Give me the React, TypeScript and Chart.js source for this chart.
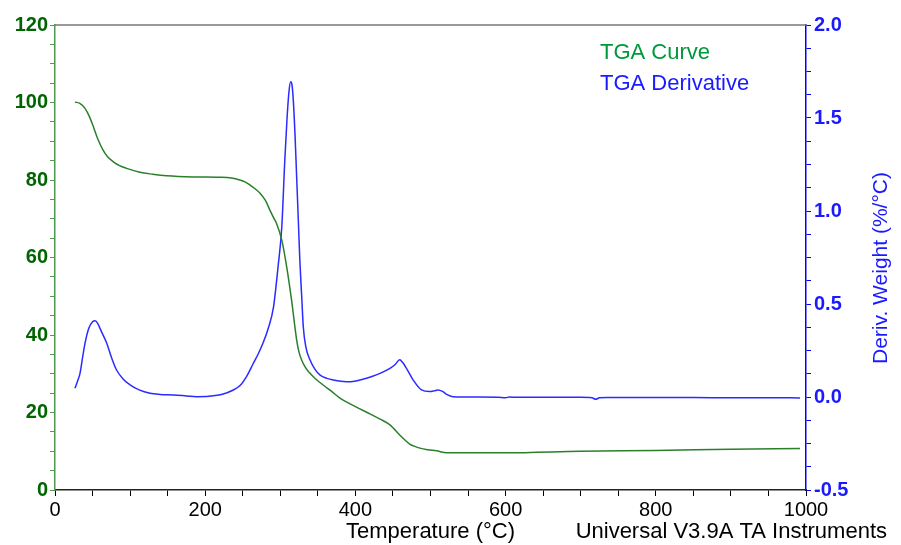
import React, { useEffect, useRef } from "react";
import { Chart, registerables } from "chart.js";

Chart.register(...registerables);

// TGA weight curve (%), vs temperature (°C)
const tgaTemp = [26.6, 33, 40, 46, 51, 57, 64, 70, 77.7, 86, 95.4, 113, 130, 148.7, 184, 220, 235, 246, 253, 259.7, 266, 273, 280, 286, 291, 295, 302, 308.5, 315, 321.8, 325, 328.5, 333, 339.5, 348, 357, 368, 379.5, 400, 420, 432.8, 446, 459, 466, 472.7, 480, 486, 496, 508, 521.5, 560, 600, 700, 800, 900, 992];
const tgaWeight = [100.1, 99.8, 98.5, 96.3, 93.8, 90.6, 87.7, 86.0, 84.7, 83.7, 83.0, 82.0, 81.5, 81.1, 80.8, 80.7, 80.5, 80.0, 79.5, 78.7, 77.8, 76.6, 74.8, 72.3, 70.3, 68.8, 64.5, 57.6, 49.0, 38.7, 35.5, 33.5, 31.8, 30.1, 28.5, 27.1, 25.5, 23.7, 21.5, 19.6, 18.3, 16.8, 14.2, 12.9, 11.8, 11.2, 10.8, 10.4, 10.1, 9.6, 9.6, 9.6, 10.0, 10.2, 10.5, 10.7];

// TGA derivative (%/°C), vs temperature (°C)
const derivTemp = [26.6, 30, 33.3, 37, 40, 45, 50, 53.3, 57, 62, 68.8, 75, 82, 90, 100, 112, 126.5, 140, 157.5, 175, 188.7, 205, 224, 236, 246, 255, 264, 271, 277, 284, 291, 297, 302, 306, 309, 311.5, 313.8, 315.5, 317, 319.5, 321.8, 324, 326, 328.5, 330.6, 334, 339.5, 346, 353, 362, 370.6, 388, 399, 410, 422, 432.8, 446, 453, 459, 463, 468, 477, 488, 499, 505, 510, 516, 521.5, 530, 560, 590, 600, 605, 615, 650, 700, 715, 720, 725, 735, 800, 850, 900, 950, 992];
const derivValue = [0.047, 0.085, 0.127, 0.22, 0.29, 0.37, 0.405, 0.41, 0.395, 0.35, 0.29, 0.215, 0.145, 0.1, 0.065, 0.038, 0.02, 0.014, 0.011, 0.006, 0.002, 0.004, 0.016, 0.035, 0.06, 0.11, 0.18, 0.235, 0.29, 0.37, 0.485, 0.7, 0.915, 1.274, 1.5, 1.64, 1.695, 1.68, 1.615, 1.42, 1.18, 0.95, 0.737, 0.54, 0.378, 0.27, 0.2, 0.15, 0.118, 0.1, 0.091, 0.082, 0.085, 0.095, 0.11, 0.127, 0.154, 0.175, 0.2, 0.185, 0.154, 0.091, 0.038, 0.029, 0.033, 0.038, 0.03, 0.014, 0.002, 0.0, -0.001, -0.004, 0.0, -0.002, -0.002, -0.002, -0.004, -0.012, -0.004, -0.003, -0.003, -0.003, -0.004, -0.004, -0.005];

const seriesLabels = ["TGA Curve", "TGA Derivative"];
const xTitle = "Temperature (°C)";
const yRightTitle = "Deriv. Weight (%/°C)";
const footerText = "Universal V3.9A TA Instruments";

const FONT = "'Liberation Sans', Arial, sans-serif";

const overlayPlugin = {
  id: "overlay",
  afterDraw(chart: any) {
    const { ctx, chartArea } = chart;
    ctx.save();
    // top frame line
    ctx.strokeStyle = "#777777";
    ctx.lineWidth = 1.5;
    ctx.beginPath();
    ctx.moveTo(chartArea.left, chartArea.top);
    ctx.lineTo(chartArea.right, chartArea.top);
    ctx.stroke();

    // legend texts
    ctx.font = `22px ${FONT}`;
    ctx.textAlign = "left";
    ctx.textBaseline = "middle";
    ctx.fillStyle = "#00993a";
    ctx.fillText(seriesLabels[0], 600, 53);
    ctx.fillStyle = "#1a1aff";
    ctx.fillText(seriesLabels[1], 600, 84);

    // footer
    ctx.fillStyle = "#000000";
    ctx.font = `22px ${FONT}`;
    ctx.textAlign = "right";
    ctx.fillText(footerText, 887, 532);

    // right axis title (reads bottom to top)
    ctx.translate(881, 268);
    ctx.rotate(-Math.PI / 2);
    ctx.textAlign = "center";
    ctx.fillStyle = "#1a1aff";
    ctx.font = `21px ${FONT}`;
    ctx.fillText(yRightTitle, 0, 0);
    ctx.restore();
  },
};

export default function App() {
  const ref = useRef<HTMLCanvasElement | null>(null);

  useEffect(() => {
    document.body.style.margin = "0";
    const canvas = ref.current;
    if (!canvas) return;
    const chart = new Chart(canvas, {
      type: "line",
      data: {
        datasets: [
          {
            label: seriesLabels[0],
            data: tgaTemp.map((t, i) => ({ x: t, y: tgaWeight[i] })),
            borderColor: "#2a802a",
            borderWidth: 1.5,
            pointRadius: 0,
            cubicInterpolationMode: "monotone",
            yAxisID: "yLeft",
          },
          {
            label: seriesLabels[1],
            data: derivTemp.map((t, i) => ({ x: t, y: derivValue[i] })),
            borderColor: "#2b2bff",
            borderWidth: 1.5,
            pointRadius: 0,
            cubicInterpolationMode: "monotone",
            yAxisID: "yRight",
          },
        ],
      },
      options: {
        responsive: false,
        animation: false,
        layout: { padding: { top: 25, left: 0, right: 0, bottom: 0 } },
        plugins: { legend: { display: false }, tooltip: { enabled: false } },
        scales: {
          x: {
            type: "linear",
            position: "bottom",
            min: 0,
            max: 1000,
            afterFit: (s: any) => {
              s.height = 55;
            },
            ticks: {
              stepSize: 50,
              autoSkip: false,
              maxRotation: 0,
              color: "#000000",
              padding: 2,
              font: { family: FONT, size: 20 },
              callback: (v: any) => (Number(v) % 200 === 0 ? String(v) : ""),
            },
            grid: { drawOnChartArea: false, tickLength: 6, color: "#000000", lineWidth: 1 },
            border: { color: "#222222", width: 1.5 },
            title: {
              display: true,
              text: xTitle,
              color: "#000000",
              font: { family: FONT, size: 22 },
              padding: { top: 0, bottom: 0 },
            },
          },
          yLeft: {
            type: "linear",
            position: "left",
            min: 0,
            max: 120,
            afterFit: (s: any) => {
              s.width = 55;
            },
            ticks: {
              stepSize: 5,
              autoSkip: false,
              color: "#006400",
              padding: 2,
              font: { family: FONT, size: 20, weight: "bold" },
              callback: (v: any) => (Number(v) % 20 === 0 ? String(v) : ""),
            },
            grid: { drawOnChartArea: false, tickLength: 5, color: "#4f9a4f", lineWidth: 1 },
            border: { color: "#4f9a4f", width: 1.5 },
          },
          yRight: {
            type: "linear",
            position: "right",
            min: -0.5,
            max: 2.0,
            afterFit: (s: any) => {
              s.width = 95;
            },
            ticks: {
              stepSize: 0.125,
              autoSkip: false,
              color: "#1a1aff",
              padding: 3,
              font: { family: FONT, size: 20, weight: "bold" },
              callback: (v: any) => {
                const n = Number(v);
                return Math.abs(n * 2 - Math.round(n * 2)) < 1e-9 ? n.toFixed(1) : "";
              },
            },
            grid: { drawOnChartArea: false, tickLength: 5, color: "#0000ff", lineWidth: 1 },
            border: { color: "#0000ff", width: 1.5 },
          },
        },
      } as any,
      plugins: [overlayPlugin],
    });
    return () => chart.destroy();
  }, []);

  return (
    <div style={{ width: 901, height: 545 }}>
      <canvas ref={ref} width={901} height={545} style={{ display: "block" }} />
    </div>
  );
}
